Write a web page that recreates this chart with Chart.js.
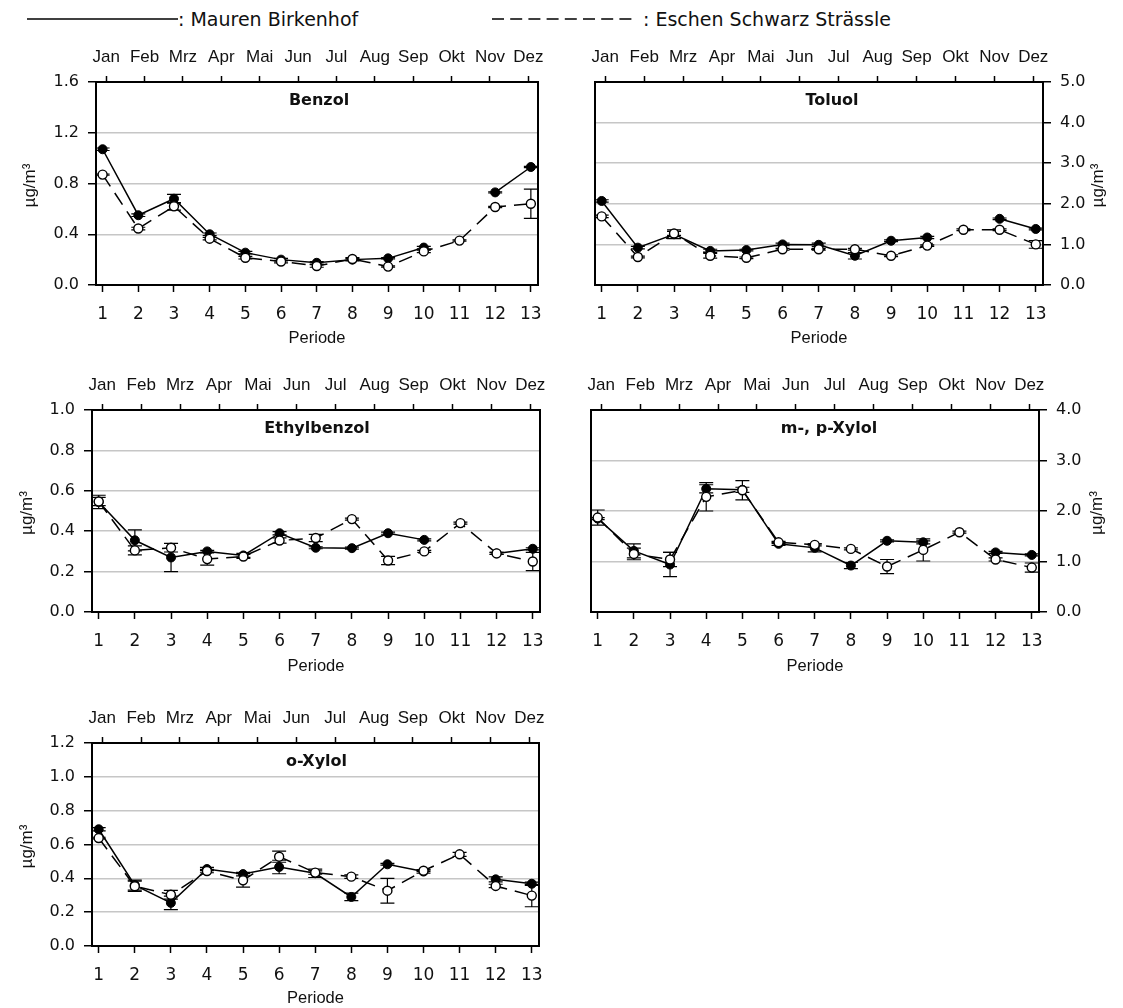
<!DOCTYPE html>
<html>
<head>
<meta charset="utf-8">
<script src="https://cdn.jsdelivr.net/npm/chart.js@4.4.1/dist/chart.umd.min.js"></script>
<style>
  body { margin: 0; background: #fff; width: 1123px; height: 1008px; position: relative; overflow: hidden; }
  .panel { position: absolute; }
  .legend { position: absolute; top: 8px; font: 19px "DejaVu Sans"; color: #111; line-height: 22px; white-space: nowrap; }
</style>
</head>
<body>
<svg style="position:absolute;left:0;top:0" width="1123" height="40">
  <line x1="27" y1="19" x2="178" y2="19" stroke="#000" stroke-width="1.5"/>
  <line x1="492" y1="19" x2="634" y2="19" stroke="#000" stroke-width="1.5" stroke-dasharray="12 6.2"/>
</svg>
<div class="legend" style="left:178px">: Mauren Birkenhof</div>
<div class="legend" style="left:643px">: Eschen Schwarz Strässle</div>

<div class="panel" style="left:0;top:30px;width:560px;height:330px"><canvas id="benzol"></canvas></div>
<div class="panel" style="left:560px;top:30px;width:563px;height:330px"><canvas id="toluol"></canvas></div>
<div class="panel" style="left:0;top:360px;width:560px;height:330px"><canvas id="ethyl"></canvas></div>
<div class="panel" style="left:560px;top:360px;width:563px;height:330px"><canvas id="mpxylol"></canvas></div>
<div class="panel" style="left:0;top:690px;width:560px;height:318px"><canvas id="oxylol"></canvas></div>

<script>
// Perioden (x) und Monatsbeschriftung oben
const periods = [1, 2, 3, 4, 5, 6, 7, 8, 9, 10, 11, 12, 13];
const monthLabels = ['Jan', 'Feb', 'Mrz', 'Apr', 'Mai', 'Jun', 'Jul', 'Aug', 'Sep', 'Okt', 'Nov', 'Dez'];

// Benzol
const benzolMauren    = [1.07, 0.55, 0.68, 0.40, 0.255, 0.20, 0.175, 0.20, 0.21, 0.295, null, 0.73, 0.93];
const benzolMaurenErr = [0.01, 0.01, 0.035, 0.01, 0.01, 0.01, 0.01, 0.01, 0.005, 0.01, null, 0.005, 0.005];
const benzolEschen    = [0.87, 0.445, 0.62, 0.365, 0.215, 0.185, 0.15, 0.205, 0.145, 0.265, 0.35, 0.615, 0.64];
const benzolEschenErr = [0.005, 0.01, 0.03, 0.01, 0.01, 0.01, 0.01, 0.01, 0.005, 0.01, 0.005, 0.005, 0.115];

// Toluol
const toluolMauren    = [2.07, 0.92, 1.25, 0.84, 0.86, 1.00, 0.99, 0.72, 1.09, 1.17, null, 1.63, 1.38];
const toluolMaurenErr = [0.03, 0.03, 0.11, 0.04, 0.02, 0.03, 0.04, 0.08, 0.02, 0.03, null, 0.02, 0.02];
const toluolEschen    = [1.69, 0.69, 1.27, 0.72, 0.67, 0.88, 0.88, 0.88, 0.72, 0.97, 1.36, 1.36, 1.00];
const toluolEschenErr = [0.03, 0.02, 0.05, 0.06, 0.02, 0.02, 0.02, 0.02, 0.02, 0.02, 0.02, 0.02, 0.095];

// Ethylbenzol
const ethylMauren    = [0.545, 0.355, 0.27, 0.30, 0.28, 0.39, 0.318, 0.316, 0.39, 0.357, null, 0.29, 0.313];
const ethylMaurenErr = [0.033, 0.052, 0.07, 0.005, 0.01, 0.008, 0.005, 0.005, 0.005, 0.005, null, 0.005, 0.005];
const ethylEschen    = [0.547, 0.305, 0.318, 0.262, 0.275, 0.354, 0.366, 0.46, 0.255, 0.30, 0.44, 0.29, 0.25];
const ethylEschenErr = [0.02, 0.022, 0.021, 0.03, 0.01, 0.013, 0.018, 0.005, 0.02, 0.005, 0.005, 0.005, 0.045];

// m-, p-Xylol
const mpMauren    = [1.85, 1.21, 0.94, 2.44, 2.42, 1.35, 1.27, 0.92, 1.41, 1.38, null, 1.18, 1.13];
const mpMaurenErr = [0.02, 0.14, 0.24, 0.08, 0.05, 0.03, 0.08, 0.06, 0.02, 0.03, null, 0.02, 0.02];
const mpEschen    = [1.87, 1.15, 1.04, 2.28, 2.41, 1.38, 1.33, 1.25, 0.90, 1.23, 1.58, 1.04, 0.88];
const mpEschenErr = [0.15, 0.115, 0.14, 0.28, 0.19, 0.02, 0.02, 0.02, 0.14, 0.22, 0.02, 0.03, 0.09];

// o-Xylol
const oxMauren    = [0.69, 0.36, 0.255, 0.455, 0.425, 0.467, 0.43, 0.29, 0.483, 0.44, null, 0.394, 0.368];
const oxMaurenErr = [0.01, 0.03, 0.04, 0.01, 0.01, 0.04, 0.025, 0.022, 0.005, 0.01, null, 0.015, 0.01];
const oxEschen    = [0.638, 0.353, 0.303, 0.443, 0.388, 0.528, 0.434, 0.41, 0.327, 0.445, 0.542, 0.355, 0.298];
const oxEschenErr = [0.005, 0.03, 0.026, 0.01, 0.04, 0.033, 0.01, 0.01, 0.073, 0.005, 0.012, 0.01, 0.066];

// Lage der Monatsstriche auf der Periodenachse
const monthFirst = 1.1;
const monthStep = 1.0755;

const TEXT = '#111';

// Fehlerbalken, Rahmen, Titel und y-Achsentitel
const panelDecor = {
  id: 'panelDecor',
  beforeDatasetsDraw(chart) {
    const ctx = chart.ctx;
    const xs = chart.scales.x, ys = chart.scales.y;
    ctx.save();
    ctx.strokeStyle = '#000';
    ctx.lineWidth = 1.2;
    chart.data.datasets.forEach(ds => {
      ds.data.forEach((pt, i) => {
        const e = ds.errors[i];
        if (pt.y == null || e == null) return;
        const x = xs.getPixelForValue(pt.x);
        const y1 = ys.getPixelForValue(pt.y - e);
        const y2 = ys.getPixelForValue(pt.y + e);
        ctx.beginPath();
        ctx.moveTo(x, y1); ctx.lineTo(x, y2);
        ctx.moveTo(x - 7, y1); ctx.lineTo(x + 7, y1);
        ctx.moveTo(x - 7, y2); ctx.lineTo(x + 7, y2);
        ctx.stroke();
      });
    });
    ctx.restore();
  },
  afterDraw(chart, args, opts) {
    const ctx = chart.ctx;
    const a = chart.chartArea;
    ctx.save();
    ctx.strokeStyle = '#000';
    ctx.lineWidth = 2;
    ctx.strokeRect(a.left, a.top, a.right - a.left, a.bottom - a.top);

    ctx.fillStyle = TEXT;
    ctx.font = 'bold 16px "DejaVu Sans"';
    ctx.textAlign = 'center';
    ctx.textBaseline = 'middle';
    ctx.fillText(opts.title, (a.left + a.right) / 2 + opts.titleDx, a.top + 19);

    ctx.translate(opts.yTitleX, (a.top + a.bottom) / 2 + 2);
    ctx.rotate(-Math.PI / 2);
    ctx.font = '17px "Liberation Sans"';
    ctx.fillText('µg/m³', 0, 0);
    ctx.restore();
  }
};

function makePanel(id, p) {
  const ctx = document.getElementById(id).getContext('2d');
  const xMin = 0.815, xMax = 13.2;
  new Chart(ctx, {
    type: 'line',
    data: {
      datasets: [
        {
          label: 'Eschen Schwarz Strässle',
          data: periods.map((x, i) => ({ x: x, y: p.eschen[i] })),
          errors: p.eschenErr,
          borderColor: '#000',
          borderWidth: 1.5,
          borderDash: [14, 8],
          pointRadius: 4.5,
          pointBackgroundColor: '#fff',
          pointBorderColor: '#000',
          pointBorderWidth: 1.4,
          spanGaps: false
        },
        {
          label: 'Mauren Birkenhof',
          data: periods.map((x, i) => ({ x: x, y: p.mauren[i] })),
          errors: p.maurenErr,
          borderColor: '#000',
          borderWidth: 1.5,
          pointRadius: 4.5,
          pointBackgroundColor: '#000',
          pointBorderColor: '#000',
          pointBorderWidth: 1,
          spanGaps: false
        }
      ]
    },
    options: {
      responsive: true,
      maintainAspectRatio: false,
      animation: false,
      layout: { padding: p.pad },
      scales: {
        x: {
          type: 'linear',
          position: 'bottom',
          min: xMin,
          max: xMax,
          afterBuildTicks: s => { s.ticks = periods.map(v => ({ value: v })); },
          afterFit: s => { s.height = p.botH; },
          grid: { drawOnChartArea: false, tickLength: 7, tickColor: '#000', tickWidth: 1.5 },
          border: { display: false },
          ticks: {
            autoSkip: false, maxRotation: 0, padding: 12, color: TEXT,
            font: { family: 'DejaVu Sans', size: 17 },
            callback: v => String(v)
          },
          title: {
            display: true, text: 'Periode', color: TEXT,
            font: { family: 'Liberation Sans', size: 16.5 },
            padding: { top: 0, bottom: p.titlePad }
          }
        },
        xTop: {
          type: 'linear',
          position: 'top',
          min: xMin,
          max: xMax,
          afterBuildTicks: s => { s.ticks = monthLabels.map((m, k) => ({ value: monthFirst + k * monthStep })); },
          afterFit: s => { s.height = p.topH; },
          grid: { drawOnChartArea: false, tickLength: 6, tickColor: '#000', tickWidth: 1.5 },
          border: { display: false },
          ticks: {
            autoSkip: false, maxRotation: 0, padding: 8, color: TEXT,
            font: { family: 'Liberation Sans', size: 17 },
            callback: (v, i) => monthLabels[i]
          }
        },
        y: {
          position: p.side,
          min: 0,
          max: p.yMax,
          afterFit: s => { s.width = p.yW; },
          grid: { color: '#c6c6c6', lineWidth: 1.5, tickLength: 8, tickColor: '#000', tickWidth: 1.5 },
          border: { display: false },
          ticks: {
            stepSize: p.yStep, padding: 9, color: TEXT,
            font: { family: 'DejaVu Sans', size: 16 },
            callback: v => v.toFixed(1)
          }
        }
      },
      plugins: {
        legend: { display: false },
        tooltip: { enabled: false },
        panelDecor: { title: p.title, titleDx: p.titleDx, yTitleX: p.yTitleX }
      }
    },
    plugins: [panelDecor]
  });
}

makePanel('benzol', {
  title: 'Benzol', mauren: benzolMauren, maurenErr: benzolMaurenErr, eschen: benzolEschen, eschenErr: benzolEschenErr,
  side: 'left', yMax: 1.6, yStep: 0.4, yW: 96, topH: 52, botH: 75, titlePad: 12,
  pad: { left: 0, right: 22, top: 0, bottom: 0 }, yTitleX: 30, titleDx: 2
});
makePanel('toluol', {
  title: 'Toluol', mauren: toluolMauren, maurenErr: toluolMaurenErr, eschen: toluolEschen, eschenErr: toluolEschenErr,
  side: 'right', yMax: 5, yStep: 1, yW: 80, topH: 52, botH: 75, titlePad: 12,
  pad: { left: 35, right: 0, top: 0, bottom: 0 }, yTitleX: 538, titleDx: 13
});
makePanel('ethyl', {
  title: 'Ethylbenzol', mauren: ethylMauren, maurenErr: ethylMaurenErr, eschen: ethylEschen, eschenErr: ethylEschenErr,
  side: 'left', yMax: 1.0, yStep: 0.2, yW: 92, topH: 50, botH: 78, titlePad: 14,
  pad: { left: 0, right: 20, top: 0, bottom: 0 }, yTitleX: 27, titleDx: 1
});
makePanel('mpxylol', {
  title: 'm-, p-Xylol', mauren: mpMauren, maurenErr: mpMaurenErr, eschen: mpEschen, eschenErr: mpEschenErr,
  side: 'right', yMax: 4, yStep: 1, yW: 84, topH: 50, botH: 78, titlePad: 14,
  pad: { left: 31, right: 0, top: 0, bottom: 0 }, yTitleX: 537, titleDx: 14
});
makePanel('oxylol', {
  title: 'o-Xylol', mauren: oxMauren, maurenErr: oxMaurenErr, eschen: oxEschen, eschenErr: oxEschenErr,
  side: 'left', yMax: 1.2, yStep: 0.2, yW: 92, topH: 53, botH: 62, titlePad: 0,
  pad: { left: 0, right: 21, top: 0, bottom: 0 }, yTitleX: 27, titleDx: 1
});
</script>
</body>
</html>
